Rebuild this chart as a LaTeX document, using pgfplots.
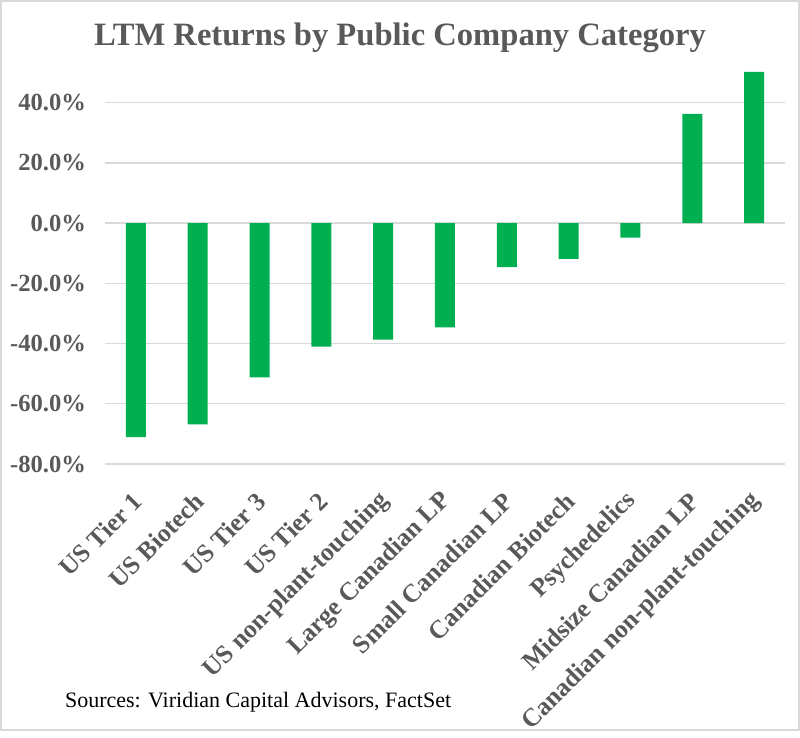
\documentclass[border=0pt]{standalone}
\usepackage{pgfplots}
\pgfplotsset{compat=1.18}
\usepackage{fontspec}
\setmainfont{Liberation Serif}

\definecolor{barGreen}{HTML}{00B050}
\definecolor{txtGray}{HTML}{595959}
\definecolor{gridGray}{HTML}{D9D9D9}

\pgfplotstableread{
idx value
0  -71.1
1  -66.8
2  -51.2
3  -41.0
4  -38.7
5  -34.6
6  -14.6
7  -11.9
8  -4.8
9  36.3
10 50.2
}\returns

\begin{document}
\begin{tikzpicture}[x=1pt,y=1pt]
  % chart frame
  \draw[gridGray, line width=0.8pt] (0.4,0.4) rectangle (399.6,365.1);

  \node[anchor=base, font=\bfseries\fontsize{16.3}{19}\selectfont, text=txtGray]
    at (200,342.6) {LTM Returns by Public Company Category};

  \begin{axis}[
    at={(52.5pt,133.5pt)}, anchor=south west,
    scale only axis,
    width=340pt, height=195.75pt,
    ybar, bar width=10pt,
    xmin=-0.5, xmax=10.5,
    ymin=-80, ymax=50,
    ytick={-80,-60,-40,-20,0,20,40},
    yticklabel={\pgfmathprintnumber[fixed,fixed zerofill,precision=1]{\tick}\%},
    /pgf/number format/assume math mode=true,
    xtick=data,
    xticklabels={US Tier 1, US Biotech, US Tier 3, US Tier 2, US non-plant-touching,
      Large Canadian LP, Small Canadian LP, Canadian Biotech, Psychedelics,
      Midsize Canadian LP, Canadian non-plant-touching},
    xticklabel style={rotate=45, anchor=east, inner sep=1pt, xshift=-10pt, yshift=-12.5pt,
      font=\bfseries\fontsize{12.8}{14}\selectfont},
    yticklabel style={xshift=-6pt, font=\bfseries\fontsize{12.3}{14}\selectfont},
    ticklabel style={text=txtGray},
    major tick length=0pt,
    axis line style={draw=none},
    ymajorgrids, grid style={gridGray, line width=0.7pt},
    clip=false,
  ]
    \addplot[fill=barGreen, draw=none] table[x=idx, y=value] {\returns};
  \end{axis}

  \node[anchor=base west, font=\fontsize{11}{13}\selectfont, text=black]
    at (29,11.5) {Sources: Viridian Capital Advisors, FactSet};
\end{tikzpicture}
\end{document}
